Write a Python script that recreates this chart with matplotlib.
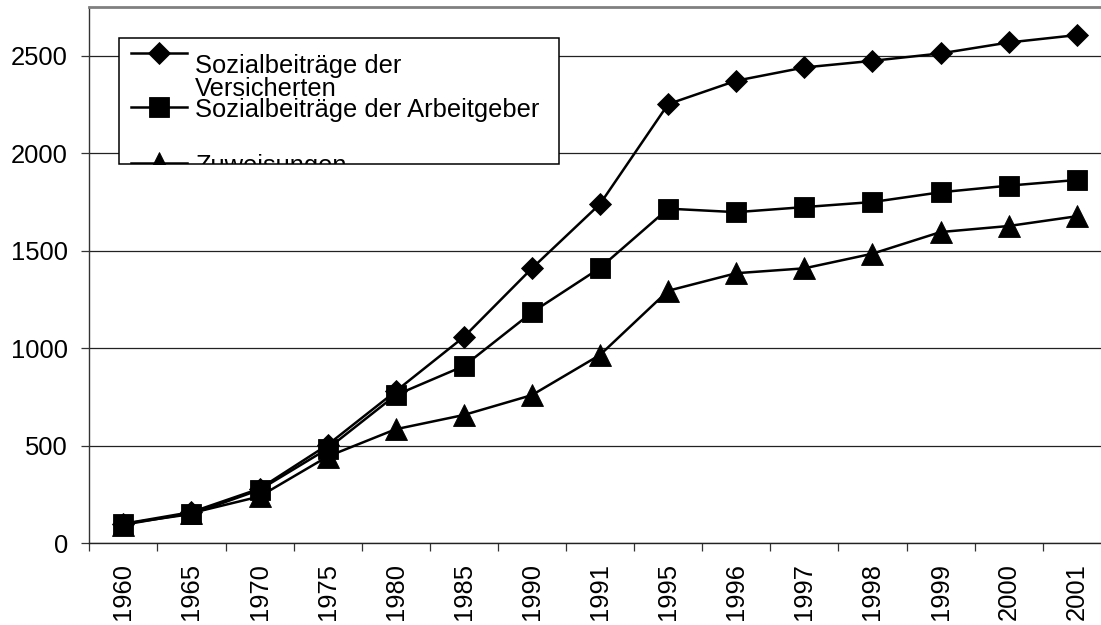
import matplotlib
matplotlib.use('Agg')
import matplotlib.pyplot as plt
from matplotlib.lines import Line2D
from matplotlib.patches import Rectangle
import numpy as np

# data
years = ['1960', '1965', '1970', '1975', '1980', '1985', '1990', '1991',
         '1995', '1996', '1997', '1998', '1999', '2000', '2001']
versicherte = [100, 160, 280, 505, 780, 1058, 1410, 1740,
               2252, 2372, 2440, 2474, 2512, 2568, 2606]
arbeitgeber = [100, 150, 274, 485, 760, 909, 1184, 1412,
               1716, 1698, 1724, 1750, 1800, 1834, 1863]
zuweisungen = [95, 155, 240, 445, 585, 658, 760, 966,
               1295, 1385, 1410, 1485, 1596, 1627, 1677]

labels = ['Sozialbeiträge der', 'Versicherten',
          'Sozialbeiträge der Arbeitgeber', 'Zuweisungen']

W, H = 1101, 625
FS = 18.4
plt.rcParams['font.family'] = ['Liberation Sans', 'DejaVu Sans']


# pixel (von oben) -> figure coords
def px(x, y):
    return x / W, 1 - y / H


fig = plt.figure(figsize=(W / 100, H / 100), dpi=100)
ax = fig.add_axes([89.3 / W, (H - 543.3) / H, (1110.8 - 89.3) / W, (543.3 - 7) / H])

x = np.arange(len(years))
line_kw = dict(color='black', linewidth=1.8, markeredgewidth=0.6, clip_on=False)
ax.plot(x, zuweisungen, marker='^', markersize=16, **line_kw)
ax.plot(x, arbeitgeber, marker='s', markersize=14, **line_kw)
ax.plot(x, versicherte, marker='D', markersize=11, **line_kw)

ax.set_xlim(-0.5, len(years) - 0.5)
ax.set_ylim(0, 2750)

# achsen
ax.set_yticks(np.arange(0, 2501, 500))
ax.yaxis.grid(True, color='#222222', linewidth=0.9)
ax.set_axisbelow(True)
ax.tick_params(axis='y', length=6, width=0.9, color='#333333', pad=9.4, labelsize=FS)

ax.set_xticks(x)
ax.set_xticklabels(years, rotation=90, fontsize=FS, va='top', ha='center')
ax.set_xticks(np.arange(-0.5, len(years)), minor=True)
ax.tick_params(axis='x', which='major', length=0, pad=14.4)
ax.tick_params(axis='x', which='minor', length=6, width=0.9, color='#333333')

ax.spines['right'].set_visible(False)
ax.spines['top'].set_color('#808080')
ax.spines['top'].set_linewidth(2)
ax.spines['left'].set_color('#333333')
ax.spines['bottom'].set_color('#222222')
ax.spines['left'].set_linewidth(1.0)
ax.spines['bottom'].set_linewidth(1.0)

# legende (von hand, unten abgeschnitten wie im original)
x0, y0 = px(119, 164)
x1, y1 = px(559, 38)
box = Rectangle((x0, y0), x1 - x0, y1 - y0, transform=fig.transFigure,
                facecolor='white', edgecolor='black', linewidth=1.1, zorder=5)
fig.add_artist(box)
clip = Rectangle((x0, y0), x1 - x0, y1 - y0, transform=fig.transFigure)

handles = [(52.7, 'D', 11), (106.7, 's', 14), (162.5, '^', 16)]
for hy, m, ms in handles:
    lx0, ly = px(131, hy)
    lx1, _ = px(187, hy)
    mx, _ = px(159, hy)
    ln = Line2D([lx0, lx1], [ly, ly], transform=fig.transFigure,
                color='black', linewidth=1.8, zorder=6)
    mk = Line2D([mx], [ly], transform=fig.transFigure, marker=m,
                markersize=ms, color='black', markeredgewidth=0.6, zorder=6)
    for a in (ln, mk):
        fig.add_artist(a)
        a.set_clip_path(clip)

baselines = [73, 95.5, 117.3, 173]
for lab, by in zip(labels, baselines):
    tx, ty = px(195, by)
    t = fig.text(tx, ty, lab, fontsize=FS, va='baseline', ha='left', zorder=7)
    t.set_clip_path(clip)
    t.set_clip_on(True)

fig.savefig('out.png', dpi=100)
